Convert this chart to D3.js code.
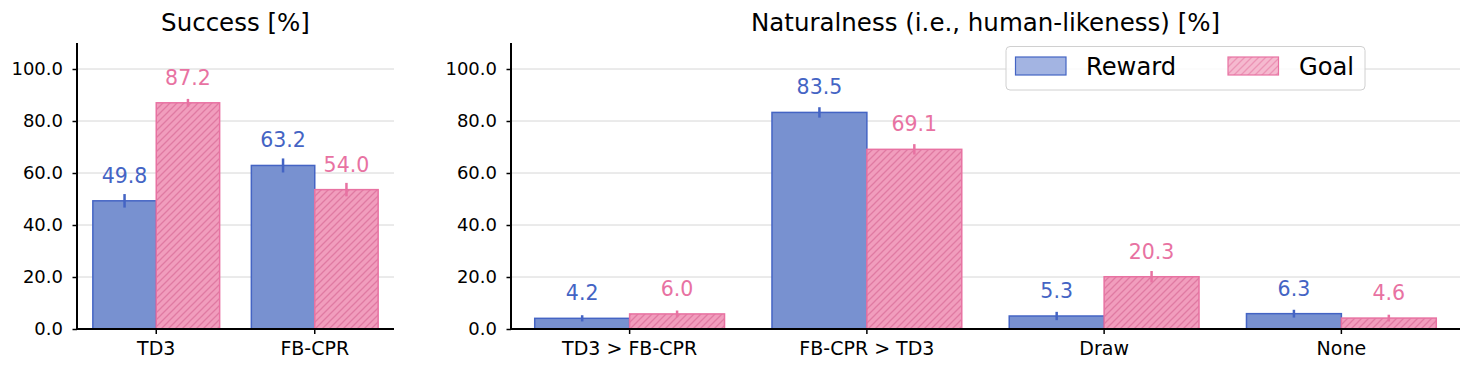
<!DOCTYPE html>
<html><head><meta charset="utf-8">
<script src="https://cdn.jsdelivr.net/npm/d3@7"></script>
<style>body{margin:0;background:#fff;}svg{display:block;font-family:"DejaVu Sans",sans-serif;}</style>
</head><body><svg id="c" width="1470" height="370"></svg>
<script>
// ---- data ----
const seriesNames = ["Reward", "Goal"];
const yTicks = [0, 20, 40, 60, 80, 100];

const successCategories = ["TD3", "FB-CPR"];
const successReward = [49.3, 62.9];
const successRewardErr = [2.6, 2.7];
const successRewardLabels = [49.8, 63.2];
const successGoal = [87.0, 53.6];
const successGoalErr = [1.5, 2.6];
const successGoalLabels = [87.2, 54.0];

const naturalCategories = ["TD3 > FB-CPR", "FB-CPR > TD3", "Draw", "None"];
const naturalReward = [4.1, 83.3, 5.0, 5.9];
const naturalRewardErr = [1.2, 2.0, 1.6, 1.5];
const naturalRewardLabels = [4.2, 83.5, 5.3, 6.3];
const naturalGoal = [5.8, 69.1, 20.1, 4.2];
const naturalGoalErr = [1.3, 2.0, 2.2, 1.3];
const naturalGoalLabels = [6.0, 69.1, 20.3, 4.6];

// ---- style ----
const C = {
  rFill: "#7891d0", rEdge: "#4464c4", rText: "#4464c4",
  gFill: "#f19dbd", gEdge: "#e872a2", gText: "#e872a2", gHatch: "#e07aa2",
  rLegFill: "#a3b4e2", gLegFill: "#f5b9cf", gLegHatch: "#ec93b5"
};

const svg = d3.select("#c");
const defs = svg.append("defs");
function hatch(id, bg, line) {
  const p = defs.append("pattern").attr("id", id).attr("patternUnits", "userSpaceOnUse")
    .attr("width", 7).attr("height", 7);
  p.append("rect").attr("width", 7).attr("height", 7).attr("fill", bg);
  p.append("path").attr("d", "M-1,1 L1,-1 M0,7 L7,0 M6,8 L8,6")
    .attr("stroke", line).attr("stroke-width", 1.3);
}
hatch("hatchBar", C.gFill, C.gHatch);
hatch("hatchLeg", C.gLegFill, C.gLegHatch);

const y = d3.scaleLinear().domain([0, 110]).range([329, 43]);

function panel(x0, x1, title, cats, rv, re, rl, gv, ge, gl) {
  const g = svg.append("g");
  const x = d3.scaleBand().domain(cats).range([x0, x1]).paddingInner(0).paddingOuter(0);
  const bw = x.bandwidth() * 0.4;
  g.append("g").selectAll("line").data(yTicks.filter(t => t > 0)).join("line")
    .attr("x1", x0).attr("x2", x1).attr("y1", d => y(d)).attr("y2", d => y(d))
    .attr("stroke", "#d6d6d6").attr("stroke-width", 1);
  const cx = c => x(c) + x.bandwidth() / 2;
  const series = [
    {v: rv, e: re, l: rl, fill: C.rFill, edge: C.rEdge, text: C.rText, off: -1},
    {v: gv, e: ge, l: gl, fill: "url(#hatchBar)", edge: C.gEdge, text: C.gText, off: 0}
  ];
  series.forEach(s => {
    const data = cats.map((c, i) => ({c, v: s.v[i], e: s.e[i], l: s.l[i]}));
    g.append("g").selectAll("rect").data(data).join("rect")
      .attr("x", d => cx(d.c) + s.off * bw).attr("width", bw)
      .attr("y", d => y(d.v)).attr("height", d => y(0) - y(d.v))
      .attr("fill", s.fill).attr("stroke", s.edge).attr("stroke-width", 1.5);
    g.append("g").selectAll("line").data(data).join("line")
      .attr("x1", d => cx(d.c) + s.off * bw + bw / 2).attr("x2", d => cx(d.c) + s.off * bw + bw / 2)
      .attr("y1", d => y(d.v + d.e)).attr("y2", d => y(d.v - d.e))
      .attr("stroke", s.edge).attr("stroke-width", 2.5);
    g.append("g").selectAll("text").data(data).join("text")
      .attr("x", d => cx(d.c) + s.off * bw + bw / 2).attr("y", d => y(d.v) - 18)
      .attr("text-anchor", "middle").style("font-size", "20.5px").attr("fill", s.text)
      .text(d => d.l.toFixed(1));
  });
  const ya = d3.axisLeft(y).tickValues(yTicks).tickFormat(d => d.toFixed(1)).tickSize(4.5).tickPadding(9.5);
  const yg = g.append("g").attr("transform", `translate(${x0},0)`).call(ya);
  yg.attr("font-size", null).attr("font-family", null);
  yg.select(".domain").attr("stroke", "#000").attr("stroke-width", 2).attr("d", `M0,${y(0)}V${y(110)}`);
  yg.selectAll(".tick line").attr("stroke", "#000").attr("stroke-width", 1.5);
  yg.selectAll(".tick text").style("font-size", "18px").attr("fill", "#000").style("font-family", "DejaVu Sans");
  const xa = d3.axisBottom(x).tickSize(5).tickPadding(8);
  const xg = g.append("g").attr("transform", `translate(0,${y(0)})`).call(xa);
  xg.attr("font-size", null).attr("font-family", null);
  xg.select(".domain").attr("stroke", "#000").attr("stroke-width", 2).attr("d", `M${x0},0H${x1}`);
  xg.selectAll(".tick line").attr("stroke", "#000").attr("stroke-width", 1.5);
  xg.selectAll(".tick text").style("font-size", "19px").attr("fill", "#000").style("font-family", "DejaVu Sans");
  g.append("text").attr("x", (x0 + x1) / 2).attr("y", 30.5).attr("text-anchor", "middle")
    .style("font-size", "24.5px").attr("fill", "#000").text(title);
}

panel(77, 394, "Success [%]", successCategories, successReward, successRewardErr, successRewardLabels,
  successGoal, successGoalErr, successGoalLabels);
panel(511, 1460, "Naturalness (i.e., human-likeness) [%]", naturalCategories, naturalReward, naturalRewardErr,
  naturalRewardLabels, naturalGoal, naturalGoalErr, naturalGoalLabels);

const lg = svg.append("g");
lg.append("rect").attr("x", 1006).attr("y", 46.5).attr("width", 359).attr("height", 43.5).attr("rx", 4)
  .attr("fill", "#fff").attr("fill-opacity", 0.85).attr("stroke", "#d0d0d0").attr("stroke-width", 1);
const legItems = [
  {name: seriesNames[0], fill: C.rLegFill, edge: C.rEdge, px: 1015.5, tx: 1086},
  {name: seriesNames[1], fill: "url(#hatchLeg)", edge: C.gEdge, px: 1228, tx: 1299}
];
legItems.forEach(it => {
  lg.append("rect").attr("x", it.px).attr("y", 57).attr("width", 50.5).attr("height", 18)
    .attr("fill", it.fill).attr("stroke", it.edge).attr("stroke-width", 1.2);
  lg.append("text").attr("x", it.tx).attr("y", 74.5).style("font-size", "24.2px").attr("fill", "#000").text(it.name);
});
</script></body></html>
